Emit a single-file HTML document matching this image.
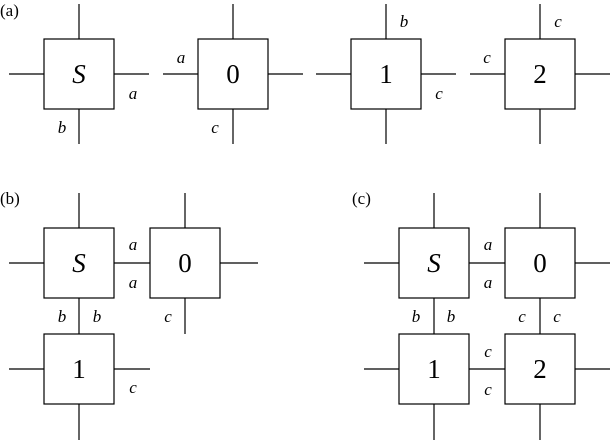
<!DOCTYPE html>
<html><head><style>body{margin:0;background:#fff}svg{display:block}</style></head><body>
<svg width="612" height="442" xmlns="http://www.w3.org/2000/svg" font-family="'Liberation Serif', serif">
<g stroke="#000" stroke-width="1.2" fill="none">
<rect x="44" y="39" width="70" height="70"/><path d="M9 74H44M114 74H149M79 4V39M79 109V144"/>
<rect x="198" y="39" width="70" height="70"/><path d="M163 74H198M268 74H303M233 4V39M233 109V144"/>
<rect x="351" y="39" width="70" height="70"/><path d="M316 74H351M421 74H456M386 4V39M386 109V144"/>
<rect x="505" y="39" width="70" height="70"/><path d="M470 74H505M575 74H610M540 4V39M540 109V144"/>
<rect x="44" y="228" width="70" height="70"/><rect x="150" y="228" width="70" height="70"/><rect x="44" y="334" width="70" height="70"/>
<path d="M9 263H44M79 193V228M114 263H150M79 298V334M185 193V228M220 263H258M185 298V334M9 369H44M114 369H150M79 404V440"/>
<rect x="399" y="228" width="70" height="70"/><rect x="505" y="228" width="70" height="70"/><rect x="399" y="334" width="70" height="70"/><rect x="505" y="334" width="70" height="70"/>
<path d="M364 263H399M434 193V228M469 263H505M434 298V334M540 193V228M575 263H610M540 298V334M469 369H505M364 369H399M434 404V440M575 369H610M540 404V440"/>
</g>
<g font-size="27" text-anchor="middle">
<text x="79" y="83" font-style="italic">S</text><text x="233" y="83">0</text><text x="386" y="83">1</text><text x="540" y="83">2</text>
<text x="79" y="272" font-style="italic">S</text><text x="185" y="272">0</text><text x="79" y="378">1</text>
<text x="434" y="272" font-style="italic">S</text><text x="540" y="272">0</text><text x="434" y="378">1</text><text x="540" y="378">2</text>
</g>
<g font-size="17" font-style="italic" text-anchor="middle">
<text x="133" y="99">a</text><text x="62" y="133">b</text><text x="181" y="63">a</text><text x="215" y="133">c</text>
<text x="404" y="27">b</text><text x="439" y="99">c</text><text x="487" y="63">c</text><text x="558" y="27">c</text>
<text x="133" y="250">a</text><text x="133" y="288">a</text><text x="62" y="322">b</text><text x="97" y="322">b</text><text x="168" y="322">c</text><text x="133" y="393">c</text>
<text x="488" y="250">a</text><text x="488" y="288">a</text><text x="416" y="322">b</text><text x="451" y="322">b</text><text x="522" y="322">c</text><text x="557" y="322">c</text><text x="488" y="357">c</text><text x="488" y="395">c</text>
</g>
<g font-size="17">
<text x="0" y="16">(a)</text><text x="0" y="204">(b)</text><text x="352" y="204">(c)</text>
</g>
</svg>
</body></html>
